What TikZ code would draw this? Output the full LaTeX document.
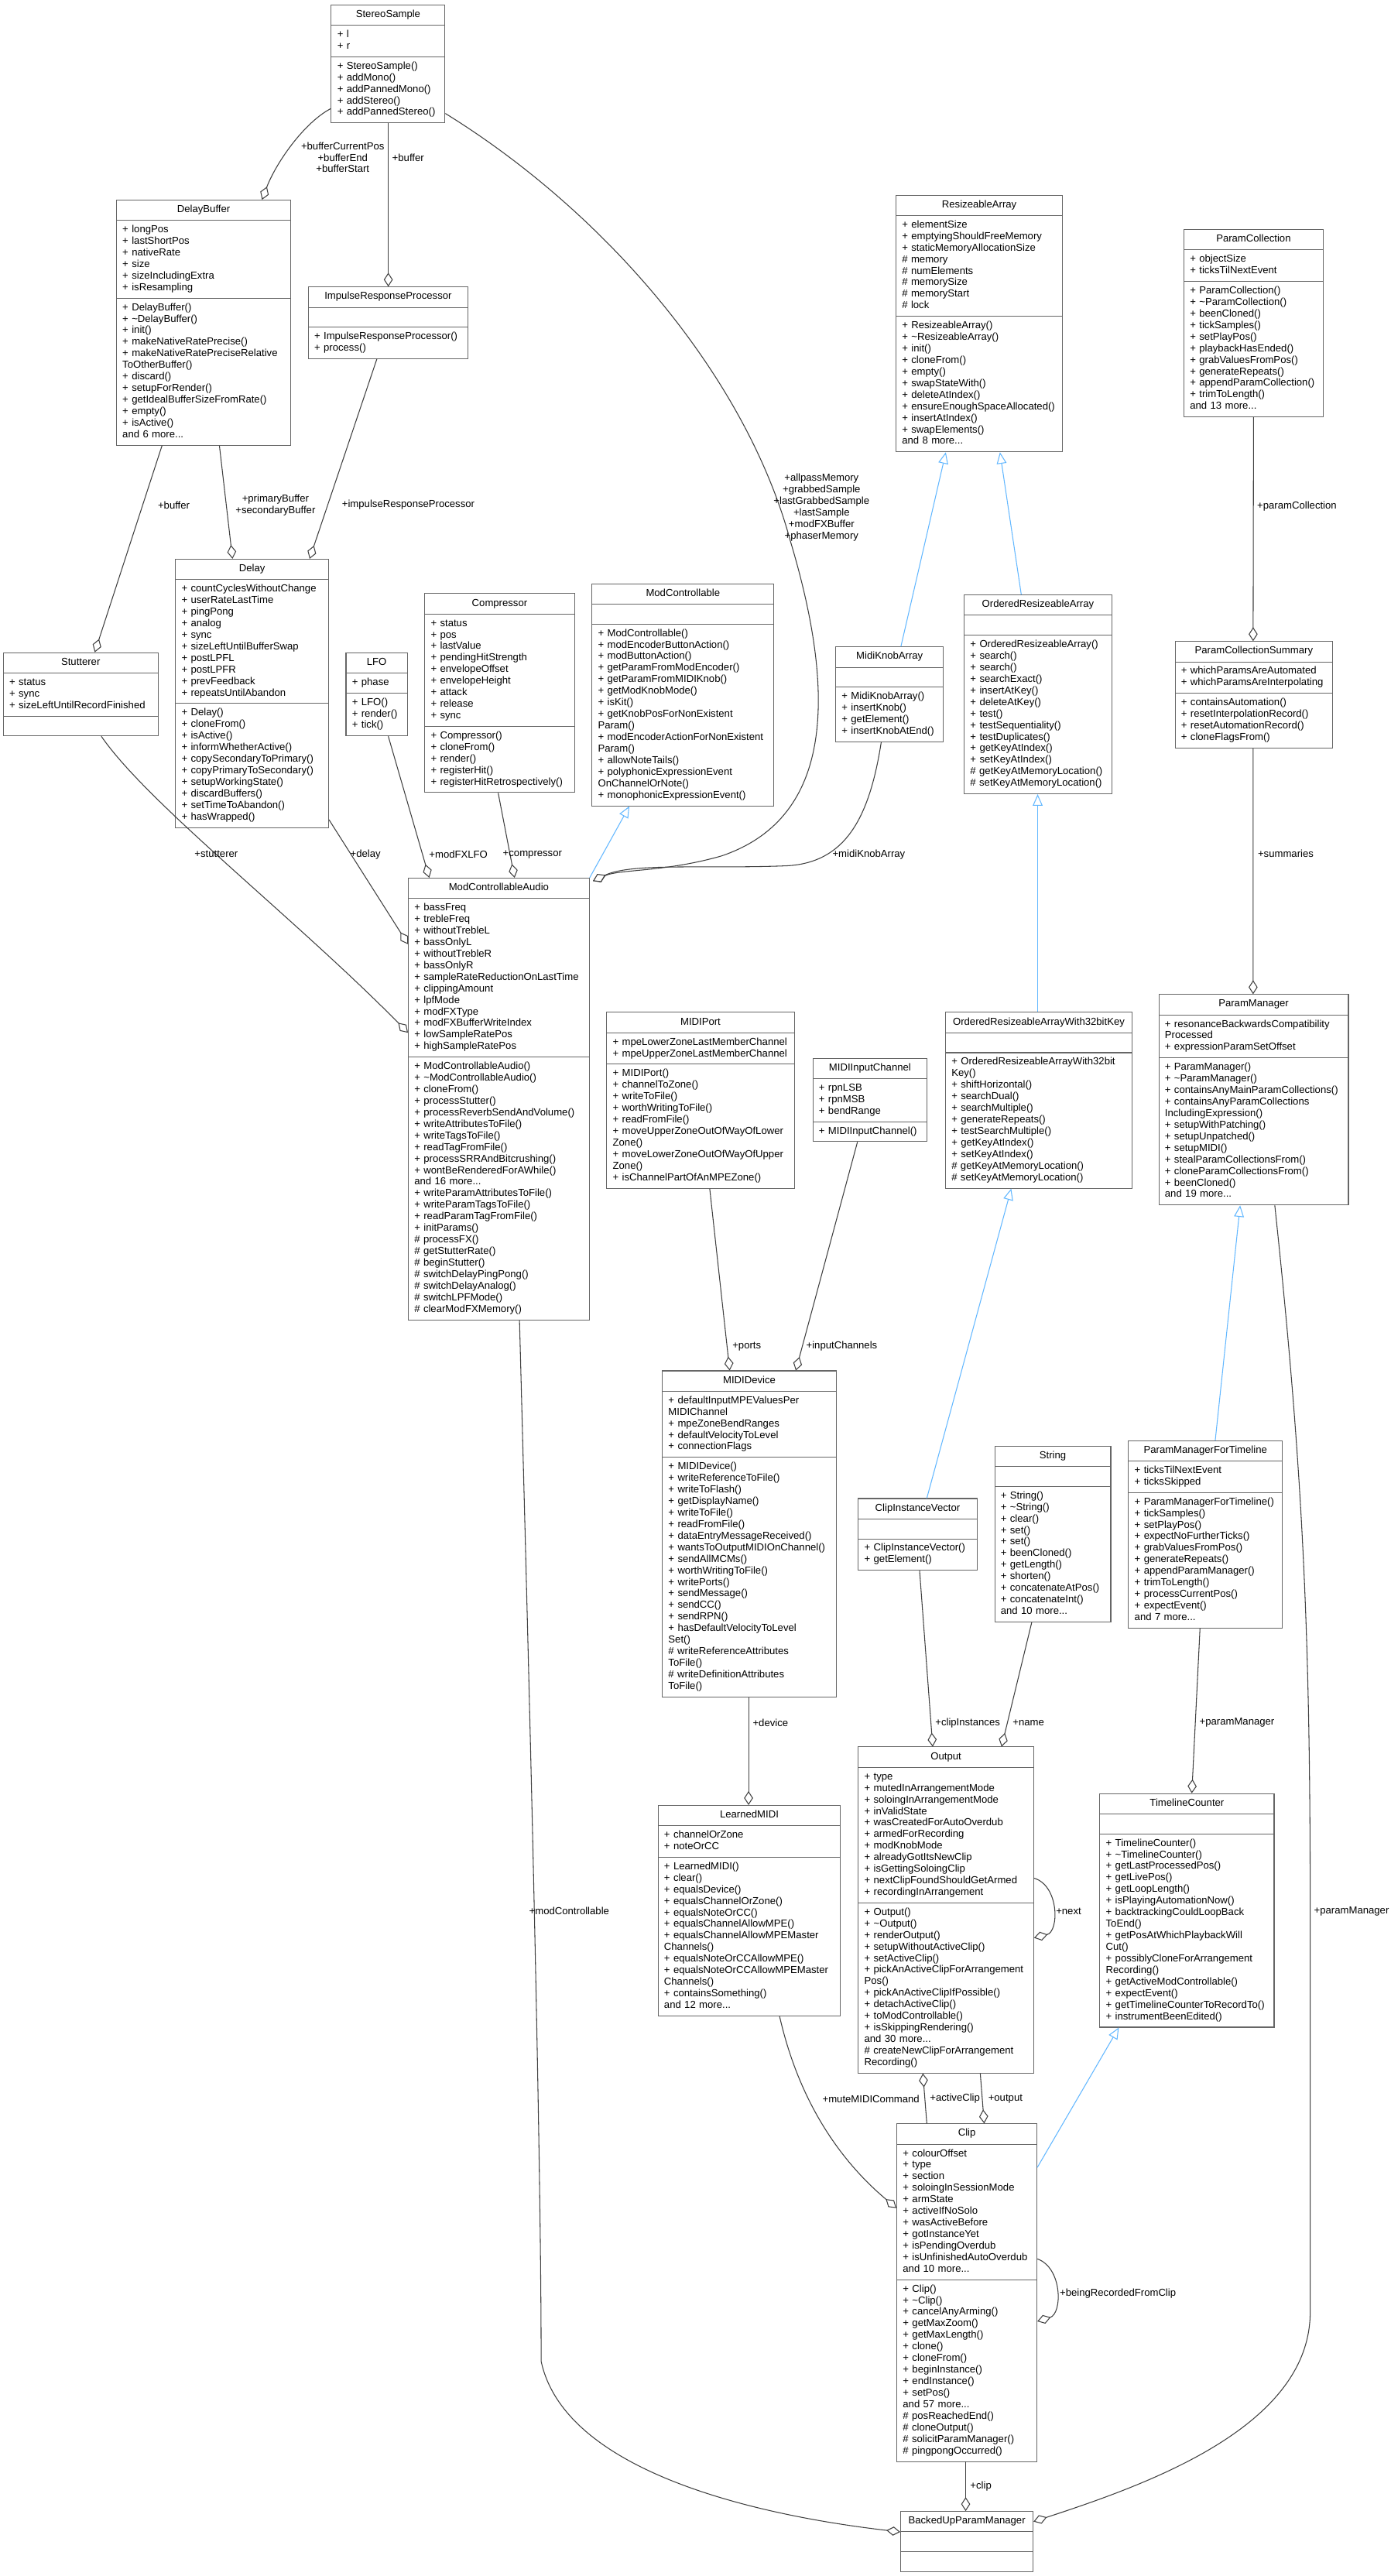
\documentclass[tikz,border=0pt]{standalone}
\usepackage{fontspec}
\setmainfont{Liberation Sans}
\usetikzlibrary{arrows.meta,fit}
\pgfdeclarelayer{bg}
\pgfsetlayers{bg,main}
\newcommand\cls[7]{%
\node[ttl,minimum width=#4pt,anchor=north west] (#1t) at (#2,#3) {#5};
\node[prt,anchor=north west] (#1a) at (#1t.south west) {#6};
\node[prt,anchor=north west] (#1m) at (#1a.south west) {#7};
\coordinate (#1br) at (#1m.south -| #1t.east);
\draw[box] (#1t.north west) rectangle (#1br);
\draw[box] (#1t.south west) -- (#1t.south east);
\draw[box] (#1a.south west) -- (#1a.south west -| #1t.east);
\node[fit=(#1t.north west)(#1br), inner sep=0pt] (#1) {};
}
\tikzset{
 every node/.style={font=\fontsize{6.2}{7.05}\selectfont, text=black},
 ttl/.style={inner xsep=2pt, inner ysep=2.5pt, execute at begin node=\strut},
 prt/.style={inner xsep=3.5pt, inner ysep=2.35pt, text width=300pt, align=left, execute at begin node=\strut, execute at end node=\strut},
 box/.style={draw=black!60, line width=0.5pt},
 agg/.style={draw=black!75, line width=0.5pt, -{Diamond[open,fill=white,length=8.5pt,width=5.5pt]}},
 inh/.style={draw=blue!40!cyan!60, draw={rgb,255:red,99;green,184;blue,255}, line width=0.5pt, -{Triangle[open,fill=white,length=7pt,width=6pt]}},
 lbl/.style={inner sep=0.5pt, align=center},
}
\begin{document}
\begin{tikzpicture}[x=1pt,y=-1pt]
\useasboundingbox[fill=white] (0,0) rectangle (848,1571);
% ---------- classes
\cls{ss}{202}{3}{69}{StereoSample}{+ l\\+ r}{+ StereoSample()\\+ addMono()\\+ addPannedMono()\\+ addStereo()\\+ addPannedStereo()}
\cls{db}{71}{122}{106}{DelayBuffer}{+ longPos\\+ lastShortPos\\+ nativeRate\\+ size\\+ sizeIncludingExtra\\+ isResampling}{+ DelayBuffer()\\+ \textasciitilde DelayBuffer()\\+ init()\\+ makeNativeRatePrecise()\\+ makeNativeRatePreciseRelative\\ToOtherBuffer()\\+ discard()\\+ setupForRender()\\+ getIdealBufferSizeFromRate()\\+ empty()\\+ isActive()\\and 6 more...}
\cls{irp}{188}{175}{97}{ImpulseResponseProcessor}{}{+ ImpulseResponseProcessor()\\+ process()}
\cls{ra}{546.4}{119}{101.2}{ResizeableArray}{+ elementSize\\+ emptyingShouldFreeMemory\\+ staticMemoryAllocationSize\\\# memory\\\# numElements\\\# memorySize\\\# memoryStart\\\# lock}{+ ResizeableArray()\\+ \textasciitilde ResizeableArray()\\+ init()\\+ cloneFrom()\\+ empty()\\+ swapStateWith()\\+ deleteAtIndex()\\+ ensureEnoughSpaceAllocated()\\+ insertAtIndex()\\+ swapElements()\\and 8 more...}
\cls{pc}{722}{140}{84.5}{ParamCollection}{+ objectSize\\+ ticksTilNextEvent}{+ ParamCollection()\\+ \textasciitilde ParamCollection()\\+ beenCloned()\\+ tickSamples()\\+ setPlayPos()\\+ playbackHasEnded()\\+ grabValuesFromPos()\\+ generateRepeats()\\+ appendParamCollection()\\+ trimToLength()\\and 13 more...}
\cls{delay}{107}{341}{93}{Delay}{+ countCyclesWithoutChange\\+ userRateLastTime\\+ pingPong\\+ analog\\+ sync\\+ sizeLeftUntilBufferSwap\\+ postLPFL\\+ postLPFR\\+ prevFeedback\\+ repeatsUntilAbandon}{+ Delay()\\+ cloneFrom()\\+ isActive()\\+ informWhetherActive()\\+ copySecondaryToPrimary()\\+ copyPrimaryToSecondary()\\+ setupWorkingState()\\+ discardBuffers()\\+ setTimeToAbandon()\\+ hasWrapped()}
\cls{stt}{2}{398}{94}{Stutterer}{+ status\\+ sync\\+ sizeLeftUntilRecordFinished}{}
\cls{lfo}{211}{398}{37}{LFO}{+ phase}{+ LFO()\\+ render()\\+ tick()}
\cls{comp}{259}{362}{91}{Compressor}{+ status\\+ pos\\+ lastValue\\+ pendingHitStrength\\+ envelopeOffset\\+ envelopeHeight\\+ attack\\+ release\\+ sync}{+ Compressor()\\+ cloneFrom()\\+ render()\\+ registerHit()\\+ registerHitRetrospectively()}
\cls{mc}{361}{356}{110.6}{ModControllable}{}{+ ModControllable()\\+ modEncoderButtonAction()\\+ modButtonAction()\\+ getParamFromModEncoder()\\+ getParamFromMIDIKnob()\\+ getModKnobMode()\\+ isKit()\\+ getKnobPosForNonExistent\\Param()\\+ modEncoderActionForNonExistent\\Param()\\+ allowNoteTails()\\+ polyphonicExpressionEvent\\OnChannelOrNote()\\+ monophonicExpressionEvent()}
\cls{mka}{509.6}{394.5}{65.4}{MidiKnobArray}{}{+ MidiKnobArray()\\+ insertKnob()\\+ getElement()\\+ insertKnobAtEnd()}
\cls{ora}{588}{362.8}{89.6}{OrderedResizeableArray}{}{+ OrderedResizeableArray()\\+ search()\\+ search()\\+ searchExact()\\+ insertAtKey()\\+ deleteAtKey()\\+ test()\\+ testSequentiality()\\+ testDuplicates()\\+ getKeyAtIndex()\\+ setKeyAtIndex()\\\# getKeyAtMemoryLocation()\\\# setKeyAtMemoryLocation()}
\cls{pcs}{716.6}{391.2}{95.7}{ParamCollectionSummary}{+ whichParamsAreAutomated\\+ whichParamsAreInterpolating}{+ containsAutomation()\\+ resetInterpolationRecord()\\+ resetAutomationRecord()\\+ cloneFlagsFrom()}
\cls{mca}{249}{535.5}{110}{ModControllableAudio}{+ bassFreq\\+ trebleFreq\\+ withoutTrebleL\\+ bassOnlyL\\+ withoutTrebleR\\+ bassOnlyR\\+ sampleRateReductionOnLastTime\\+ clippingAmount\\+ lpfMode\\+ modFXType\\+ modFXBufferWriteIndex\\+ lowSampleRatePos\\+ highSampleRatePos}{+ ModControllableAudio()\\+ \textasciitilde ModControllableAudio()\\+ cloneFrom()\\+ processStutter()\\+ processReverbSendAndVolume()\\+ writeAttributesToFile()\\+ writeTagsToFile()\\+ readTagFromFile()\\+ processSRRAndBitcrushing()\\+ wontBeRenderedForAWhile()\\and 16 more...\\+ writeParamAttributesToFile()\\+ writeParamTagsToFile()\\+ readParamTagFromFile()\\+ initParams()\\\# processFX()\\\# getStutterRate()\\\# beginStutter()\\\# switchDelayPingPong()\\\# switchDelayAnalog()\\\# switchLPFMode()\\\# clearModFXMemory()}
\cls{mp}{370}{617.4}{114}{MIDIPort}{+ mpeLowerZoneLastMemberChannel\\+ mpeUpperZoneLastMemberChannel}{+ MIDIPort()\\+ channelToZone()\\+ writeToFile()\\+ worthWritingToFile()\\+ readFromFile()\\+ moveUpperZoneOutOfWayOfLower\\Zone()\\+ moveLowerZoneOutOfWayOfUpper\\Zone()\\+ isChannelPartOfAnMPEZone()}
\cls{mic}{495.7}{645.4}{69.3}{MIDIInputChannel}{+ rpnLSB\\+ rpnMSB\\+ bendRange}{+ MIDIInputChannel()}
\cls{oraw}{576.6}{617.4}{113.4}{OrderedResizeableArrayWith32bitKey}{}{+ OrderedResizeableArrayWith32bit\\Key()\\+ shiftHorizontal()\\+ searchDual()\\+ searchMultiple()\\+ generateRepeats()\\+ testSearchMultiple()\\+ getKeyAtIndex()\\+ setKeyAtIndex()\\\# getKeyAtMemoryLocation()\\\# setKeyAtMemoryLocation()}
\cls{pm}{706.7}{606.5}{115.2}{ParamManager}{+ resonanceBackwardsCompatibility\\Processed\\+ expressionParamSetOffset}{+ ParamManager()\\+ \textasciitilde ParamManager()\\+ containsAnyMainParamCollections()\\+ containsAnyParamCollections\\IncludingExpression()\\+ setupWithPatching()\\+ setupUnpatched()\\+ setupMIDI()\\+ stealParamCollectionsFrom()\\+ cloneParamCollectionsFrom()\\+ beenCloned()\\and 19 more...}
\cls{md}{403.9}{836}{105.7}{MIDIDevice}{+ defaultInputMPEValuesPer\\MIDIChannel\\+ mpeZoneBendRanges\\+ defaultVelocityToLevel\\+ connectionFlags}{+ MIDIDevice()\\+ writeReferenceToFile()\\+ writeToFlash()\\+ getDisplayName()\\+ writeToFile()\\+ readFromFile()\\+ dataEntryMessageReceived()\\+ wantsToOutputMIDIOnChannel()\\+ sendAllMCMs()\\+ worthWritingToFile()\\+ writePorts()\\+ sendMessage()\\+ sendCC()\\+ sendRPN()\\+ hasDefaultVelocityToLevel\\Set()\\\# writeReferenceAttributes\\ToFile()\\\# writeDefinitionAttributes\\ToFile()}
\cls{civ}{523.4}{913.9}{72}{ClipInstanceVector}{}{+ ClipInstanceVector()\\+ getElement()}
\cls{str}{606.6}{881.9}{70.4}{String}{}{+ String()\\+ \textasciitilde String()\\+ clear()\\+ set()\\+ set()\\+ beenCloned()\\+ getLength()\\+ shorten()\\+ concatenateAtPos()\\+ concatenateInt()\\and 10 more...}
\cls{pmft}{688.2}{878.6}{93.4}{ParamManagerForTimeline}{+ ticksTilNextEvent\\+ ticksSkipped}{+ ParamManagerForTimeline()\\+ tickSamples()\\+ setPlayPos()\\+ expectNoFurtherTicks()\\+ grabValuesFromPos()\\+ generateRepeats()\\+ appendParamManager()\\+ trimToLength()\\+ processCurrentPos()\\+ expectEvent()\\and 7 more...}
\cls{out}{523.4}{1065.4}{106.6}{Output}{+ type\\+ mutedInArrangementMode\\+ soloingInArrangementMode\\+ inValidState\\+ wasCreatedForAutoOverdub\\+ armedForRecording\\+ modKnobMode\\+ alreadyGotItsNewClip\\+ isGettingSoloingClip\\+ nextClipFoundShouldGetArmed\\+ recordingInArrangement}{+ Output()\\+ \textasciitilde Output()\\+ renderOutput()\\+ setupWithoutActiveClip()\\+ setActiveClip()\\+ pickAnActiveClipForArrangement\\Pos()\\+ pickAnActiveClipIfPossible()\\+ detachActiveClip()\\+ toModControllable()\\+ isSkippingRendering()\\and 30 more...\\\# createNewClipForArrangement\\Recording()}
\cls{lm}{401.3}{1101}{110.9}{LearnedMIDI}{+ channelOrZone\\+ noteOrCC}{+ LearnedMIDI()\\+ clear()\\+ equalsDevice()\\+ equalsChannelOrZone()\\+ equalsNoteOrCC()\\+ equalsChannelAllowMPE()\\+ equalsChannelAllowMPEMaster\\Channels()\\+ equalsNoteOrCCAllowMPE()\\+ equalsNoteOrCCAllowMPEMaster\\Channels()\\+ containsSomething()\\and 12 more...}
\cls{tc}{670.7}{1093.8}{105.9}{TimelineCounter}{}{+ TimelineCounter()\\+ \textasciitilde TimelineCounter()\\+ getLastProcessedPos()\\+ getLivePos()\\+ getLoopLength()\\+ isPlayingAutomationNow()\\+ backtrackingCouldLoopBack\\ToEnd()\\+ getPosAtWhichPlaybackWill\\Cut()\\+ possiblyCloneForArrangement\\Recording()\\+ getActiveModControllable()\\+ expectEvent()\\+ getTimelineCounterToRecordTo()\\+ instrumentBeenEdited()}
\cls{clip}{546.9}{1295.2}{85.1}{Clip}{+ colourOffset\\+ type\\+ section\\+ soloingInSessionMode\\+ armState\\+ activeIfNoSolo\\+ wasActiveBefore\\+ gotInstanceYet\\+ isPendingOverdub\\+ isUnfinishedAutoOverdub\\and 10 more...}{+ Clip()\\+ \textasciitilde Clip()\\+ cancelAnyArming()\\+ getMaxZoom()\\+ getMaxLength()\\+ clone()\\+ cloneFrom()\\+ beginInstance()\\+ endInstance()\\+ setPos()\\and 57 more...\\\# posReachedEnd()\\\# cloneOutput()\\\# solicitParamManager()\\\# pingpongOccurred()}
\cls{bupm}{549.2}{1531.6}{80.5}{BackedUpParamManager}{}{}
\begin{pgfonlayer}{bg}
\fill[black!40] (bupm.north west) rectangle (bupm.south east);
\end{pgfonlayer}
% ---------- connectors
\draw[agg] ([yshift=9]ss.south west) .. controls (185,75) and (168,100) .. ([xshift=89]db.north west);
\node[lbl] at (209,96) {+bufferCurrentPos\\+bufferEnd\\+bufferStart};
\draw[agg] ([xshift=35]ss.south west) -- ([xshift=49]irp.north west);
\node[lbl,anchor=west] at (238.5,96) {+buffer};
\draw[agg] ([yshift=6]ss.south east) .. controls (370,130) and (455,230) .. (482,330) .. controls (512,430) and (505,500) .. (440,522) .. controls (405,532) and (378,530) .. ([xshift=2,yshift=-2]mca.north east);
\node[lbl] at (501,309.6) {+allpassMemory\\+grabbedSample\\+lastGrabbedSample\\+lastSample\\+modFXBuffer\\+phaserMemory};
\draw[agg] ([xshift=28]db.south west) -- ([xshift=56]stt.north west);
\node[lbl] at (106,308) {+buffer};
\draw[agg] ([xshift=63]db.south west) -- ([xshift=35]delay.north west);
\node[lbl] at (168,308) {+primaryBuffer\\+secondaryBuffer};
\draw[agg] ([xshift=42]irp.south west) -- ([xshift=82]delay.north west);
\node[lbl] at (249,308) {+impulseResponseProcessor};
\draw[agg] ([xshift=60]stt.south west) .. controls (90,490) and (180,560) .. ([yshift=-94.5]mca.north west);
\node[lbl,anchor=west] at (118,521) {+stutterer};
\draw[agg] ([yshift=5]delay.south east) -- ([yshift=-40.5]mca.north west);
\node[lbl,anchor=west] at (213,521) {+delay};
\draw[agg] ([xshift=26]lfo.south west) -- ([xshift=13]mca.north west);
\node[lbl,anchor=west] at (261,521) {+modFXLFO};
\draw[agg] ([xshift=45]comp.south west) -- ([xshift=55]comp.south west |- mca.north);
\node[lbl,anchor=west] at (306,521) {+compressor};
\draw[inh] (mca.north east) -- ([xshift=23]mc.south west);
\draw[agg] ([xshift=28]mka.south west) .. controls (530,500) and (515,526) .. (480,528) .. controls (430,530) and (385,526) .. ([xshift=2,yshift=-2]mca.north east);
\node[lbl,anchor=west] at (507,521) {+midiKnobArray};
\draw[inh] ([xshift=40]mka.north west) -- ([xshift=30.6]ra.south west);
\draw[inh] ([xshift=35]ora.north west) -- ([xshift=63.6]ra.south west);
\draw[inh] ([xshift=56.4]oraw.north west) -- ([xshift=45]ora.south west);
\draw[agg] (pc.south) -- ([xshift=47.8]pcs.north west);
\node[lbl,anchor=west] at (766,309) {+paramCollection};
\draw[agg] ([xshift=47.8]pcs.south west) -- ([xshift=57.7]pm.north west);
\node[lbl,anchor=west] at (766.4,520.6) {+summaries};
\draw[inh] ([xshift=42]civ.north west) -- ([xshift=40.3]oraw.south west);
\draw[inh] ([xshift=53.1]pmft.north west) -- ([xshift=49.8]pm.south west);
\draw[agg] ([xshift=63]mp.south west) -- ([xshift=41.3]md.north west);
\node[lbl,anchor=west] at (446,821) {+ports};
\draw[agg] ([xshift=27.4]mic.south west) -- ([xshift=81.6]md.north west);
\node[lbl,anchor=west] at (491,821) {+inputChannels};
\draw[agg] ([xshift=52.8]md.south west) -- ([xshift=55.4]lm.north west);
\node[lbl,anchor=west] at (458.4,1050.6) {+device};
\draw[agg] ([xshift=37.6]civ.south west) -- ([xshift=45.6]out.north west);
\node[lbl,anchor=west] at (569.7,1050.6) {+clipInstances};
\draw[agg] ([xshift=22.8]str.south west) -- ([xshift=87.6]out.north west);
\node[lbl,anchor=west] at (616.9,1050.6) {+name};
\draw[agg] ([xshift=43.8]pmft.south west) -- ([xshift=56.3]tc.north west);
\node[lbl,anchor=west] at (730.8,1050.6) {+paramManager};
\draw[agg] ([yshift=-80.2]out.north east) .. controls (646,1150) and (646,1178) .. ([yshift=-116.6]out.north east);
\node[lbl,anchor=west] at (643.3,1165.5) {+next};
\draw[agg] ([xshift=18.5]clip.north west) -- ([xshift=39.6]out.south west);
\node[lbl,anchor=west] at (566.4,1280) {+activeClip};
\draw[agg] ([xshift=74.6]out.south west) -- ([xshift=53.5]clip.north west);
\node[lbl,anchor=west] at (602,1280) {+output};
\draw[agg] ([xshift=74.3]lm.south west) .. controls (488,1285) and (515,1320) .. ([yshift=-51.6]clip.north west);
\node[lbl,anchor=east] at (561.4,1280) {+muteMIDICommand};
\draw[inh] ([yshift=-26.8]clip.north east) -- ([xshift=11.8]tc.south west);
\draw[agg] ([yshift=-82.6]clip.north east) .. controls (648,1383) and (648,1411) .. ([yshift=-120.7]clip.north east);
\node[lbl,anchor=west] at (645.6,1398.5) {+beingRecordedFromClip};
\draw[agg] ([xshift=42.2]clip.south west) -- ([xshift=39.9]bupm.north west);
\node[lbl,anchor=west] at (591,1516.4) {+clip};
\draw[agg] ([xshift=68]mca.south west) .. controls (322,1000) and (330,1300) .. (330,1440) .. controls (345,1510) and (470,1535) .. ([yshift=-12.7]bupm.north west);
\node[lbl,anchor=east] at (372.2,1165.5) {+modControllable};
\draw[agg] ([xshift=70.9]pm.south west) .. controls (795,900) and (799,1000) .. (799,1165) -- (799,1410) .. controls (799,1480) and (700,1515) .. ([yshift=-6.4]bupm.north east);
\node[lbl,anchor=west] at (800.7,1165.5) {+paramManager};
\end{tikzpicture}
\end{document}
